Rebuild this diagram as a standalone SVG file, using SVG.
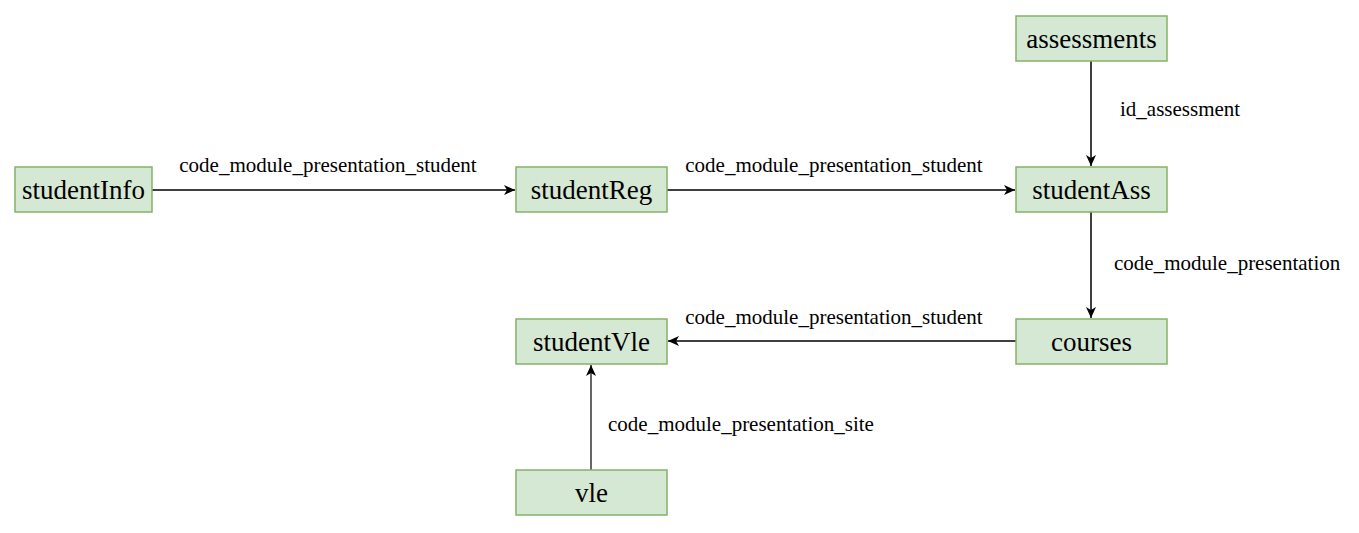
<svg xmlns="http://www.w3.org/2000/svg" width="1359" height="533" viewBox="0 0 1359 533">
<style>
.node rect{fill:#d5e8d4;stroke:#82b366;stroke-width:1.5}
.node text{font-family:'Liberation Serif','Times New Roman',Times,'DejaVu Serif',serif;font-size:27px;fill:#000;text-anchor:middle}
.edge{stroke:#000;stroke-width:1.5;fill:none;marker-end:url(#arr)}
.lbl{font-family:'Liberation Serif','Times New Roman',Times,'DejaVu Serif',serif;font-size:21px;fill:#000}
</style>
<defs>
<marker id="arr" markerUnits="userSpaceOnUse" markerWidth="14" markerHeight="14" viewBox="0 0 14 14" refX="12" refY="7" orient="auto">
<path d="M1,2 L12,7 L1,12 L4,7 Z" fill="#000"/>
</marker>
</defs>
<rect width="1359" height="533" fill="#fff"/>
<g id="connectors">
<line class="edge" x1="152" y1="190" x2="515" y2="190"/>
<line class="edge" x1="667" y1="190" x2="1015" y2="190"/>
<line class="edge" x1="1091" y1="61" x2="1091" y2="166"/>
<line class="edge" x1="1091" y1="212" x2="1091" y2="318"/>
<line class="edge" x1="1016" y1="341" x2="668" y2="341"/>
<line class="edge" x1="591" y1="470" x2="591" y2="365" style="stroke-width:1.2"/>
<text class="lbl" x="328" y="172" text-anchor="middle">code_module_presentation_student</text>
<text class="lbl" x="834" y="172" text-anchor="middle">code_module_presentation_student</text>
<text class="lbl" x="1120" y="116">id_assessment</text>
<text class="lbl" x="1114" y="270">code_module_presentation</text>
<text class="lbl" x="834" y="324" text-anchor="middle">code_module_presentation_student</text>
<text class="lbl" x="608" y="431">code_module_presentation_site</text>
</g>
<g id="studentInfo" class="node"><rect x="15" y="167" width="137" height="45"/><text x="83.5" y="199">studentInfo</text></g>
<g id="studentReg" class="node"><rect x="516" y="167" width="151" height="45"/><text x="591.5" y="199">studentReg</text></g>
<g id="studentAss" class="node"><rect x="1016" y="167" width="151" height="45"/><text x="1091.5" y="199">studentAss</text></g>
<g id="assessments" class="node"><rect x="1016" y="16" width="151" height="45"/><text x="1091.5" y="48">assessments</text></g>
<g id="courses" class="node"><rect x="1016" y="319" width="151" height="45"/><text x="1091.5" y="351">courses</text></g>
<g id="studentVle" class="node"><rect x="516" y="319" width="151" height="45"/><text x="591.5" y="351">studentVle</text></g>
<g id="vle" class="node"><rect x="516" y="470" width="151" height="45"/><text x="591.5" y="502">vle</text></g>
</svg>
